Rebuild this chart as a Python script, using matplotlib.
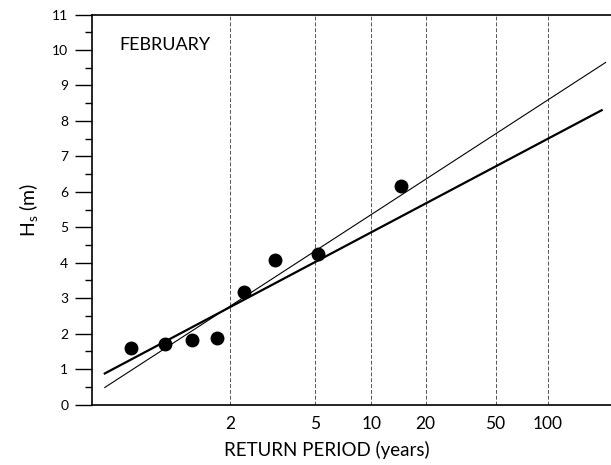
import numpy as np
from matplotlib import pyplot as plt
from matplotlib.ticker import FixedLocator, MultipleLocator, NullLocator

# data (return period in years, Hs in metres)
return_period = [1.08, 1.24, 1.46, 1.78, 2.28, 3.17, 5.2, 14.5]
hs_obs = [1.58, 1.70, 1.82, 1.88, 3.18, 4.08, 4.25, 6.15]

# fitted lines: Hs = a + b * Gumbel reduced variate
thick_fit = (2.336, 1.122)
thin_fit = (2.269, 1.3745)
thick_range = (1.026, 204.0)
thin_range = (1.026, 215.0)

period_ticks = [2, 5, 10, 20, 50, 100]


def gumbel(t):
    t = np.clip(np.asarray(t, dtype=float), 1.0 + 1e-9, None)
    return -np.log(-np.log(1.0 - 1.0 / t))


def gumbel_inv(y):
    y = np.asarray(y, dtype=float)
    return 1.0 / (1.0 - np.exp(-np.exp(-y)))


plt.rcParams['font.family'] = ['Lato', 'DejaVu Sans']
plt.rcParams['mathtext.fontset'] = 'custom'
plt.rcParams['mathtext.rm'] = 'Lato'
plt.rcParams['mathtext.it'] = 'Lato'

fig = plt.figure(figsize=(6.11, 4.65), dpi=100)
ax = fig.add_axes([0.1506, 0.1301, 0.8494, 0.8387])
ax.set_xscale('function', functions=(gumbel, gumbel_inv))
ax.set_xlim(1.0130, 230.9)
ax.set_ylim(0, 11)

for t in period_ticks:
    ax.axvline(t, color='#555555', lw=0.7, dashes=(4, 2), zorder=1)

for (a, b), (t0, t1), lw in [(thick_fit, thick_range, 1.6), (thin_fit, thin_range, 0.8)]:
    tt = np.array([t0, t1])
    ax.plot(tt, a + b * gumbel(tt), color='black', lw=lw, zorder=2)

ax.plot(return_period, hs_obs, 'o', color='black', ms=9, zorder=3)

ax.xaxis.set_major_locator(FixedLocator(period_ticks))
ax.xaxis.set_minor_locator(NullLocator())
ax.set_xticklabels([str(t) for t in period_ticks])
ax.tick_params(axis='x', length=0, pad=8, labelsize=12.5)

ax.yaxis.set_major_locator(MultipleLocator(1))
ax.yaxis.set_minor_locator(MultipleLocator(0.5))
ax.tick_params(axis='y', which='major', direction='out', length=12, width=1, pad=5, labelsize=10)
ax.tick_params(axis='y', which='minor', direction='out', length=5, width=1)

ax.spines['right'].set_visible(False)
for side in ['left', 'top', 'bottom']:
    ax.spines[side].set_linewidth(1.2)

ax.set_xlabel('RETURN PERIOD (years)', fontsize=13.5, labelpad=7)
ax.xaxis.set_label_coords(0.453, -0.093)
ax.set_ylabel('H$_{\\mathrm{s}}$ (m)', fontsize=14, labelpad=9)

ax.text(0.052, 0.922, 'FEBRUARY', transform=ax.transAxes, fontsize=13,
        ha='left', va='center')

fig.savefig('out.png', dpi=100)
